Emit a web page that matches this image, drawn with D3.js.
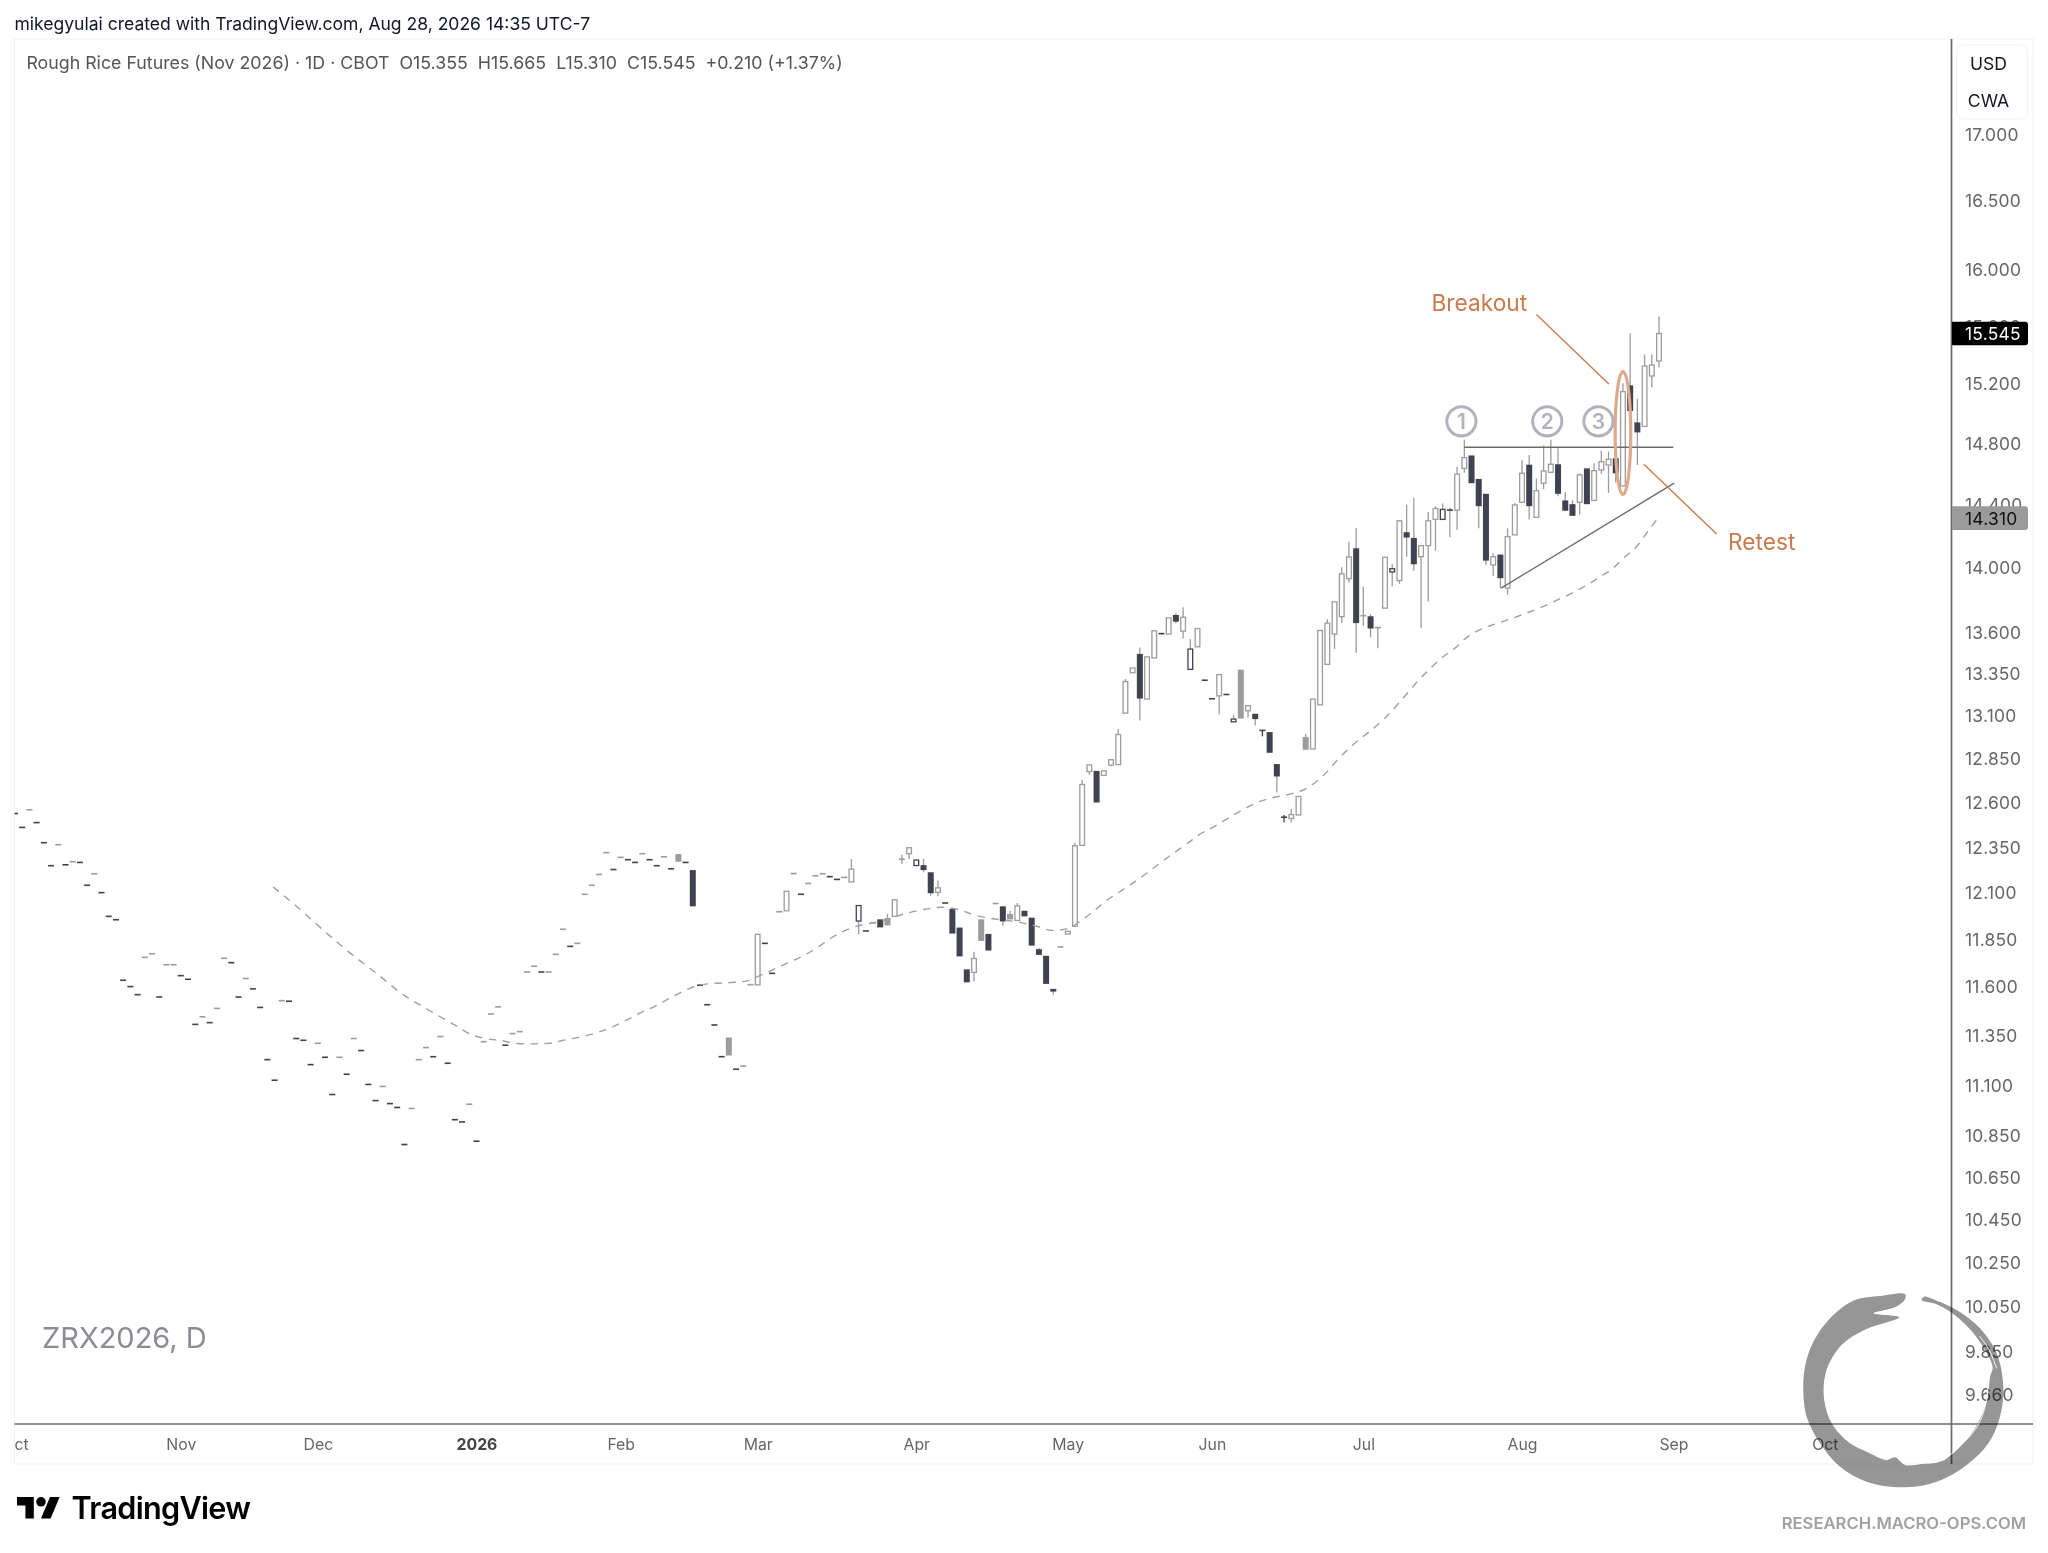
<!DOCTYPE html>
<html><head><meta charset="utf-8">
<script src="https://cdn.jsdelivr.net/npm/d3@7/dist/d3.min.js"></script>
<style>html,body{margin:0;padding:0;background:#fff}svg{display:block}text{font-family:Inter,"Noto Sans",sans-serif}</style>
</head><body><div id="c"></div>
<script>
const closes=[12.535,12.457,12.556,12.484,12.372,12.245,12.361,12.250,12.267,12.263,
12.138,12.201,12.098,11.970,11.952,11.632,11.599,11.557,11.752,11.771,
11.545,11.713,11.713,11.656,11.637,11.404,11.443,11.413,11.486,11.747,
11.724,11.545,11.641,11.587,11.491,11.225,11.122,11.526,11.523,11.332,
11.323,11.200,11.308,11.237,11.051,11.237,11.152,11.332,11.271,11.101,
11.021,11.091,11.006,10.987,10.806,10.982,11.225,11.286,11.240,11.342,
11.207,10.927,10.916,11.003,10.822,11.316,11.457,11.494,11.298,11.357,
11.367,11.675,11.705,11.675,11.675,11.768,11.901,11.810,11.826,12.089,
12.138,12.197,12.317,12.224,12.291,12.278,12.263,12.311,12.278,12.245,
12.294,12.228,12.267,12.263,12.024,11.606,11.505,11.401,11.240,11.246,
11.177,11.193,11.609,11.874,11.826,11.668,11.995,12.105,12.202,12.089,
12.148,12.190,12.201,12.185,12.170,12.181,12.226,12.028,11.892,11.936,
11.911,11.922,12.059,12.281,12.344,12.276,12.221,12.095,12.124,12.042,
11.878,11.757,11.621,11.746,11.839,11.788,12.039,11.943,11.954,12.026,
11.970,11.814,11.765,11.613,11.573,11.807,11.890,12.355,12.699,12.811,
12.597,12.777,12.841,12.987,13.299,13.380,13.198,13.447,13.605,13.588,
13.684,13.661,13.688,13.494,13.619,13.307,13.197,13.340,13.222,13.077,
13.080,13.156,13.077,13.011,12.881,12.745,12.514,12.529,12.631,12.899,
13.195,13.607,13.652,13.783,13.957,14.063,13.652,13.698,13.619,13.625,
14.061,13.989,14.293,14.186,14.017,14.135,14.293,14.372,14.366,14.362,
14.595,14.704,14.536,14.387,14.040,14.065,13.930,14.192,14.395,14.601,
14.387,14.487,14.616,14.660,14.467,14.358,14.325,14.590,14.400,14.618,
14.677,14.693,14.601,15.145,15.014,14.871,15.320,15.327,15.545];
// Bars with a real body: [bar, open]. Bars not listed opened at their close.
const openPairs=[[92,12.309],[94,12.221],[99,11.337],[103,11.608],[107,12.000],[116,12.156],[117,11.945],[120,11.954],[121,11.961],[122,11.970],[124,12.311],[125,12.246],[126,12.248],[127,12.209],[128,12.100],[130,12.010],[131,11.910],[132,11.689],[133,11.673],[134,11.954],[135,11.876],[137,12.024],[138,11.983],[139,11.948],[140,12.000],[141,11.963],[142,11.795],[143,11.760],[144,11.587],[146,11.876],[147,11.917],[148,12.357],[149,12.773],[150,12.777],[151,12.751],[152,12.810],[153,12.813],[154,13.112],[155,13.352],[156,13.465],[157,13.195],[158,13.441],[160,13.585],[161,13.702],[162,13.603],[163,13.372],[164,13.508],[167,13.214],[169,13.061],[170,13.370],[171,13.126],[172,13.108],[174,13.001],[175,12.816],[177,12.507],[178,12.527],[179,12.972],[180,12.903],[181,13.161],[182,13.402],[183,13.585],[184,13.692],[185,13.927],[186,14.118],[188,13.694],[190,13.744],[191,13.969],[192,13.915],[193,14.220],[194,14.183],[195,14.065],[196,14.135],[197,14.302],[198,14.302],[200,14.362],[201,14.633],[202,14.718],[203,14.564],[204,14.467],[205,14.013],[206,14.078],[207,13.868],[208,14.203],[209,14.412],[210,14.657],[211,14.315],[212,14.536],[213,14.607],[214,14.660],[215,14.424],[216,14.400],[217,14.412],[218,14.633],[219,14.424],[220,14.622],[221,14.655],[222,14.700],[223,14.518],[224,15.188],[225,14.938],[226,14.911],[227,15.252],[228,15.355]];
// Bars whose wick passes the body.
const highPairs=[[116,12.281],[121,11.983],[123,12.305],[126,12.283],[128,12.164],[133,11.782],[138,11.999],[139,12.042],[142,11.802],[147,12.370],[148,12.726],[153,13.019],[154,13.315],[156,13.503],[161,13.713],[162,13.750],[163,13.555],[169,13.102],[176,12.527],[177,12.560],[179,12.991],[182,13.676],[184,13.998],[185,14.159],[186,14.247],[187,13.878],[188,13.708],[191,14.019],[193,14.397],[194,14.441],[196,14.350],[197,14.387],[198,14.405],[199,14.379],[200,14.644],[201,14.822],[205,14.087],[207,14.245],[208,14.408],[209,14.690],[210,14.721],[211,14.568],[212,14.783],[213,14.822],[214,14.766],[215,14.478],[216,14.425],[217,14.601],[219,14.667],[220,14.750],[221,14.743],[223,15.202],[224,15.547],[225,15.097],[226,15.400],[227,15.400],[228,15.665]];
const lowPairs=[[117,11.874],[123,12.255],[124,12.281],[126,12.209],[127,12.083],[128,12.078],[133,11.625],[137,11.920],[144,11.557],[149,12.755],[152,12.802],[156,13.069],[161,13.652],[162,13.558],[167,13.104],[171,13.086],[172,13.040],[173,12.976],[175,12.654],[176,12.484],[177,12.484],[183,13.494],[184,13.655],[185,13.903],[186,13.472],[187,13.635],[188,13.565],[189,13.499],[191,13.878],[192,13.895],[193,14.065],[194,13.977],[195,13.621],[196,13.785],[197,14.103],[199,14.188],[200,14.235],[201,14.604],[203,14.246],[204,14.013],[205,13.944],[206,13.868],[207,13.826],[210,14.302],[212,14.497],[214,14.451],[217,14.334],[220,14.597],[221,14.473],[222,14.540],[225,14.655],[227,15.175],[228,15.310]];
// Moving average: bar position and value.
const maBars=[35.8,39.7,43.0,46.4,50.0,53.5,57.3,61.2,63.1,65.2,67.4,69.5,71.9,74.1,76.3,78.5,80.7,82.8,84.7,86.8,88.8,90.8,92.8,94.8,97.1,99.3,101.5,103.8,105.6,107.6,109.7,111.7,113.5,115.4,117.4,119.5,121.6,124.0,126.2,128.5,130.8,132.9,135.0,139.4,141.7,143.8,145.9,147.7,149.8,151.4,153.0,157.0,158.8,160.7,162.5,164.3,166.2,168.1,170.0,172.1,174.2,176.4,178.5,180.4,182.0,183.5,185.2,190.2,191.7,193.2,194.7,196.3,198.0,199.7,201.4,203.4,205.4,207.4,209.7,211.7,213.7,215.8,217.9,219.9,221.6,223.2,224.9,226.3,227.7];
const maValues=[12.129,12.002,11.888,11.777,11.672,11.566,11.479,11.396,11.355,11.332,11.322,11.307,11.305,11.308,11.325,11.340,11.362,11.389,11.424,11.464,11.498,11.538,11.577,11.606,11.616,11.620,11.629,11.665,11.696,11.730,11.768,11.815,11.862,11.899,11.924,11.938,11.963,11.990,12.008,12.019,12.007,11.979,11.961,11.938,11.917,11.895,11.903,11.943,12.005,12.056,12.097,12.205,12.259,12.315,12.365,12.418,12.459,12.505,12.550,12.594,12.622,12.641,12.665,12.713,12.774,12.845,12.913,13.092,13.161,13.234,13.309,13.378,13.445,13.500,13.567,13.617,13.648,13.678,13.715,13.750,13.791,13.834,13.885,13.940,13.992,14.061,14.129,14.215,14.302];
const priceTicks=[17,16.5,16,15.6,15.2,14.8,14.4,14,13.6,13.35,13.1,12.85,12.6,12.35,12.1,11.85,11.6,11.35,11.1,10.85,10.65,10.45,10.25,10.05,9.85,9.66];
const monthBars=[0,23,42,64,84,103,125,146,166,187,209,230,251];
const monthLabels=["Oct","Nov","Dec","2026","Feb","Mar","Apr","May","Jun","Jul","Aug","Sep","Oct"];
const lastPrice=15.545, lowMarker=14.31;
const resistance=[[201,14.772],[230,14.772]];
const trendline=[[206.1,13.868],[230.1,14.536]];
const breakoutArrow=[[211,15.679],[221.04,15.197]];
const retestArrow=[[225.9,14.660],[236,14.208]];
const touches=[[200.6,"1"],[212.5,"2"],[219.6,"3"]];
const touchLevel=14.945, ellipseBar=223, ellipseLevel=14.867;

const W=2048,H=1553,L=14.5,R=1951.5,T=39,B=1424,FR=2033,FB=1464;
const x=d3.scaleLinear().domain([0,228]).range([15,1659]);
const y=d3.scaleLog().domain([14,17]).range([567,134]);
const DARK="#40424f",GRAY="#9c9c9c",ORANGE="#c97b4e",LINE="#6b6b6b";

const opensMap=new Map(openPairs),highsMap=new Map(highPairs),lowsMap=new Map(lowPairs);
const bars=closes.map((c,i)=>{const o=opensMap.has(i)?opensMap.get(i):c;return{i,o,c,
  h:highsMap.has(i)?highsMap.get(i):Math.max(o,c),l:lowsMap.has(i)?lowsMap.get(i):Math.min(o,c),
  col:(i>0&&c>=closes[i-1])?GRAY:DARK};});

const svg=d3.select("#c").append("svg").attr("width",W).attr("height",H).attr("viewBox",`0 0 ${W} ${H}`);
const defs=svg.append("defs");
defs.append("clipPath").attr("id","plot").append("rect").attr("x",L).attr("y",T).attr("width",R-L).attr("height",B-T);
defs.append("clipPath").attr("id","xax").append("rect").attr("x",L).attr("y",B).attr("width",R-L).attr("height",FB-B);
svg.append("rect").attr("width",W).attr("height",H).attr("fill","#fff");
svg.append("rect").attr("x",L).attr("y",T).attr("width",FR-L).attr("height",FB-T).attr("fill","none").attr("stroke","#f0f1f4").attr("stroke-width",1);

svg.append("text").attr("x",14.4).attr("y",30).attr("font-size",17.55).attr("fill","#131722").text("mikegyulai created with TradingView.com, Aug 28, 2026 14:35 UTC-7");
svg.append("text").attr("x",26.4).attr("y",69).attr("font-size",17.8).attr("fill","#555").text("Rough Rice Futures (Nov 2026) · 1D · CBOT  O15.355  H15.665  L15.310  C15.545  +0.210 (+1.37%)").style("white-space","pre");

const plot=svg.append("g").attr("clip-path","url(#plot)");
const g=plot.selectAll("g.bar").data(bars).join("g").attr("class","bar");
g.filter(d=>d.h>Math.max(d.o,d.c)||d.l<Math.min(d.o,d.c)).append("line")
 .attr("x1",d=>x(d.i)).attr("x2",d=>x(d.i)).attr("y1",d=>y(d.h)).attr("y2",d=>y(d.l))
 .attr("stroke",d=>(d.o===d.c&&d.h-d.l<0.06)?d.col:GRAY).attr("stroke-width",1.3);
g.filter(d=>d.o===d.c).append("rect").attr("x",d=>x(d.i)-3).attr("width",6)
 .attr("y",d=>y(d.c)-.8).attr("height",1.6).attr("fill",d=>d.col);
g.filter(d=>d.c<d.o).append("rect").attr("x",d=>x(d.i)-3).attr("width",6)
 .attr("y",d=>y(d.o)).attr("height",d=>y(d.c)-y(d.o)).attr("fill",d=>d.col);
g.filter(d=>d.c>d.o).append("rect").attr("x",d=>x(d.i)-2.35).attr("width",4.7)
 .attr("y",d=>y(d.c)).attr("height",d=>y(d.o)-y(d.c)).attr("fill","#fff").attr("stroke",d=>d.col).attr("stroke-width",1.3);

plot.append("path").datum(maBars.map((b,i)=>[b,maValues[i]]))
 .attr("d",d3.line().x(d=>x(d[0])).y(d=>y(d[1])).curve(d3.curveMonotoneX))
 .attr("fill","none").attr("stroke","#a0a0a0").attr("stroke-width",1.4).attr("stroke-dasharray","7.5 6.5");

const seg=d3.line().x(d=>x(d[0])).y(d=>y(d[1]));
plot.append("path").attr("d",seg(resistance)).attr("stroke",LINE).attr("stroke-width",1.4).attr("fill","none");
plot.append("path").attr("d",seg(trendline)).attr("stroke",LINE).attr("stroke-width",1.4).attr("fill","none");
plot.append("path").attr("d",seg(breakoutArrow)).attr("stroke",ORANGE).attr("stroke-width",1.4).attr("fill","none");
plot.append("path").attr("d",seg(retestArrow)).attr("stroke",ORANGE).attr("stroke-width",1.4).attr("fill","none");
plot.append("ellipse").attr("cx",x(ellipseBar)).attr("cy",y(ellipseLevel)).attr("rx",7.8).attr("ry",61.5)
 .attr("fill","none").attr("stroke","#dfa98c").attr("stroke-width",3.2);
plot.selectAll("circle.touch").data(touches).join("circle").attr("class","touch").attr("cx",d=>x(d[0])).attr("cy",y(touchLevel)).attr("r",14.6)
 .attr("fill","none").attr("stroke","#b1b3ba").attr("stroke-width",3);
plot.selectAll("text.touch").data(touches).join("text").attr("class","touch").attr("x",d=>x(d[0])).attr("y",y(touchLevel)+7.8)
 .attr("text-anchor","middle").attr("font-size",21).attr("font-weight",600).attr("fill","#b1b3ba").text(d=>d[1]);
plot.append("text").attr("x",1431.5).attr("y",311).attr("font-size",22.7).attr("fill",ORANGE).text("Breakout");
plot.append("text").attr("x",1728).attr("y",550).attr("font-size",22.7).attr("fill",ORANGE).text("Retest");
svg.append("text").attr("x",42).attr("y",1348).attr("font-size",29).attr("fill","#8a8c96").text("ZRX2026, D");

// axes
const ya=d3.axisRight(y).tickValues(priceTicks).tickSize(0).tickPadding(0).tickFormat(d3.format(".3f"));
const yg=svg.append("g").attr("transform",`translate(1965,0.8)`).call(ya);
yg.select(".domain").remove();
yg.selectAll("text").attr("font-size",17.4).attr("letter-spacing",0.25).attr("fill","#666").attr("font-family","Inter");
const xa=d3.axisBottom(x).tickValues(monthBars).tickSize(0).tickPadding(0).tickFormat((d,i)=>monthLabels[i]);
const xg=svg.append("g").attr("clip-path","url(#xax)").append("g").attr("transform",`translate(0,1438.5)`).call(xa);
xg.select(".domain").remove();
xg.selectAll("text").attr("font-size",15.8).attr("font-family","Inter").attr("font-weight",d=>d===64?700:400).attr("fill",d=>d===64?"#444":"#666");
svg.append("line").attr("x1",R).attr("x2",R).attr("y1",T).attr("y2",FB).attr("stroke",LINE).attr("stroke-width",1.7);
svg.append("line").attr("x1",L).attr("x2",FR).attr("y1",B).attr("y2",B).attr("stroke",LINE).attr("stroke-width",1.7);

// USD / CWA box
svg.append("rect").attr("x",1956.7).attr("y",45).attr("width",71).attr("height",74).attr("rx",7).attr("fill","#fff").attr("stroke","#f0f1f4");
svg.append("text").attr("x",1988.5).attr("y",69.5).attr("text-anchor","middle").attr("font-size",17.6).attr("fill","#131722").text("USD");
svg.append("text").attr("x",1988.5).attr("y",107).attr("text-anchor","middle").attr("font-size",17.6).attr("fill","#131722").text("CWA");

// price labels
function priceTag(v,bg,fg){const yy=y(v);
 svg.append("path").attr("d",`M1952 ${yy-11.8}H2025a3 3 0 0 1 3 3V${yy+8.8}a3 3 0 0 1 -3 3H1952Z`).attr("fill",bg);
 svg.append("text").attr("x",1965).attr("y",yy+6.6).attr("font-size",17.4).attr("letter-spacing",0.25).attr("fill",fg).text(v.toFixed(3));}
priceTag(lastPrice,"#000","#fff");
priceTag(lowMarker,"#9b9b9b","#111");

// TradingView logo
const logo=svg.append("g").attr("transform","translate(17,1492.2) scale(1.2)").attr("fill","#000");
logo.append("path").attr("d","M14 22H7V11H0V4h14v18zM28 22h-8l7.5-18h8L28 22z");
logo.append("circle").attr("cx",20).attr("cy",8).attr("r",4);
svg.append("text").attr("x",71.5).attr("y",1519).attr("font-size",30.6).attr("font-weight",600).attr("letter-spacing",-0.7).attr("fill","#000").text("TradingView");

// Macro-Ops ring watermark
const ringOuter=[[495,72],[420,78],[345,90],[280,135],[220,215],[195,290],[190,365],[200,440],[240,520],[300,590],[380,635],[490,652],[590,635],[680,585],[745,520],[780,440],[790,350],[770,250],[720,175],[650,120],[590,92],[552,80]];
const ringInner=[[545,90],[590,103],[640,132],[690,178],[730,232],[758,292],[750,320],[745,370],[728,430],[695,490],[645,545],[600,575],[545,582],[495,585],[465,562],[440,570],[380,545],[330,520],[275,460],[252,385],[258,305],[292,240],[325,208],[385,175],[478,142],[400,130],[468,110],[495,88]];
const ringPt=d=>[1740+d[0]/3,1270+d[1]/3];
const ringPath=d3.line().curve(d3.curveCatmullRomClosed.alpha(.5))(ringOuter.concat(ringInner).map(ringPt));
svg.append("path").attr("d",ringPath).attr("fill","#969696").style("mix-blend-mode","multiply");
const strands=[[[718,198],[745,235],[770,295]],[[745,305],[738,400],[705,480],[610,572]]];
svg.selectAll("path.strand").data(strands).join("path").attr("class","strand")
 .attr("d",d=>d3.line().curve(d3.curveCatmullRom)(d.map(ringPt))).attr("fill","none").attr("stroke","#fff").attr("stroke-width",0.9);
svg.append("text").attr("x",1781.7).attr("y",1528.5).attr("font-size",15.5).attr("font-weight",600).attr("fill","#a0a0a0").attr("font-family","Open Sans").attr("textLength",244.5).attr("lengthAdjust","spacingAndGlyphs").text("RESEARCH.MACRO-OPS.COM");
</script></body></html>
